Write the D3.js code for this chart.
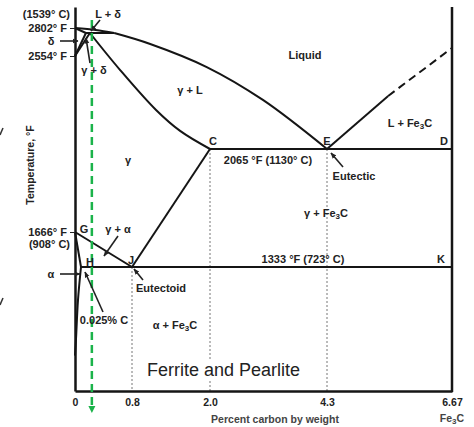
<!DOCTYPE html>
<html>
<head>
<meta charset="utf-8">
<script src="https://cdn.jsdelivr.net/npm/d3@7"></script>
<style>
  body { margin: 0; background: #fff; }
  text { font-family: "Liberation Sans", Arial, sans-serif; fill: #222; }
</style>
</head>
<body>
<div id="my_chart"></div>
<script>
// data: [percent carbon, temperature °F]
var carbonTicks = [0, 0.8, 2.0, 4.3, 6.67];
var tempTicks = [2802, 2554, 1666];
var liquidusDelta = [[0, 2802], [0.25, 2770], [0.53, 2720]];
var liquidusGamma = [[0.53, 2720], [1.08, 2641], [1.95, 2496], [3.04, 2323], [4.3, 2065]];
var solidusDelta = [[0, 2802], [0.1, 2720]];
var peritectic = [[0.1, 2720], [0.53, 2720]];
var deltaBound = [[0, 2554], [0.1, 2720]];
var gammaBound = [[0, 2554], [0.16, 2720]];
var solidusGamma = [[0.16, 2720], [0.62, 2480], [1.17, 2270], [1.54, 2160], [2.0, 2065]];
var cementiteLiq = [[4.3, 2065], [5.46, 2344]];
var cementiteLiqDash = [[5.46, 2344], [6.67, 2612]];
var eutecticLine = [[2.0, 2065], [6.67, 2065]];
var eutectoidLine = [[0.025, 1333], [6.67, 1333]];
var a3Line = [[0, 1666], [0.8, 1333]];
var gpLine = [[0, 1666], [0.025, 1333]];
var alphaSolvus = [[0.025, 1333], [0.0125, 980], [0.004, 550], [0, 380]];
var acmLine = [[0.8, 1333], [2.0, 2065]];
var dottedCarbon = [0.8, 2.0, 4.3];
var dottedTop = [1333, 2065, 2065];
var steelCarbon = 0.19;

var width = 474, height = 427;

var svg = d3.select("#my_chart")
  .append("svg")
    .attr("width", width)
    .attr("height", height);

// the diagram is schematic: low carbon and some temperature bands are stretched
var x = d3.scaleLinear()
  .domain([0, 0.025, 0.8, 2.0, 4.3, 6.67])
  .range([75, 81, 132, 210, 327, 452]);
var y = d3.scaleLinear()
  .domain([0, 1333, 1666, 2065, 2554, 2720, 2802, 3000])
  .range([391, 267, 232, 149, 56, 33, 28, 7]);

var defs = svg.append("defs");
defs.append("marker")
    .attr("id", "arr")
    .attr("viewBox", "0 0 10 10")
    .attr("refX", 9).attr("refY", 5)
    .attr("markerWidth", 6).attr("markerHeight", 6)
    .attr("markerUnits", "userSpaceOnUse")
    .attr("orient", "auto")
  .append("path")
    .attr("d", "M0,1L10,5L0,9z")
    .attr("fill", "#222");

var line = d3.line().x(function(d){ return x(d[0]); }).y(function(d){ return y(d[1]); });
var curve = d3.line().curve(d3.curveCatmullRom)
  .x(function(d){ return x(d[0]); }).y(function(d){ return y(d[1]); });

// dotted verticals
svg.selectAll("dotv")
  .data(dottedCarbon)
  .enter()
  .append("line")
    .attr("x1", function(d){ return x(d); })
    .attr("x2", function(d){ return x(d); })
    .attr("y1", function(d, i){ return y(dottedTop[i]); })
    .attr("y2", y(0))
    .attr("stroke", "#777")
    .attr("stroke-width", 1)
    .attr("stroke-dasharray", "2,2");

// phase boundaries
var straight = [solidusDelta, peritectic, deltaBound, gammaBound, cementiteLiq,
                eutecticLine, eutectoidLine, a3Line, gpLine, acmLine];
straight.forEach(function(s){
  svg.append("path").attr("d", line(s))
    .attr("fill", "none").attr("stroke", "#151515").attr("stroke-width", 2);
});
[liquidusDelta, liquidusGamma, solidusGamma, alphaSolvus].forEach(function(s){
  svg.append("path").attr("d", curve(s))
    .attr("fill", "none").attr("stroke", "#151515").attr("stroke-width", 2);
});
svg.append("path").attr("d", line(cementiteLiqDash))
  .attr("fill", "none").attr("stroke", "#151515").attr("stroke-width", 2)
  .attr("stroke-dasharray", "8,5");

// Ferrite and Pearlite, on a white box over the dotted line
var fp = svg.append("text")
  .attr("x", 147).attr("y", 376)
  .style("font-size", "18px")
  .text("Ferrite and Pearlite");
var bb = fp.node().getBBox();
svg.insert("rect", "text")
  .attr("x", bb.x - 2).attr("y", bb.y)
  .attr("width", bb.width + 4).attr("height", bb.height)
  .attr("fill", "#fff");

// axes
var yAxis = svg.append("g")
  .attr("transform", "translate(" + x(0) + ",0)")
  .call(d3.axisLeft(y).tickValues(tempTicks).tickSize(5).tickSizeOuter(0)
    .tickFormat(function(d){ return d + "° F"; }));
yAxis.select(".domain").attr("stroke", "#151515").attr("stroke-width", 2.5);
yAxis.selectAll(".tick line").attr("stroke", "#222");
yAxis.selectAll(".tick text")
  .style("font-family", "Liberation Sans, Arial, sans-serif")
  .style("font-size", "11px").style("font-weight", "bold").attr("fill", "#222");

var xAxis = svg.append("g")
  .attr("transform", "translate(0," + y(0) + ")")
  .call(d3.axisBottom(x).tickValues(carbonTicks).tickSize(0).tickSizeOuter(0).tickPadding(8)
    .tickFormat(function(d){ return d === 0 ? "0" : (d === 6.67 ? "6.67" : d.toFixed(1)); }));
xAxis.select(".domain").attr("stroke", "#151515").attr("stroke-width", 2.5);
xAxis.selectAll(".tick text")
  .style("font-family", "Liberation Sans, Arial, sans-serif")
  .style("font-size", "10.5px").style("font-weight", "bold").attr("fill", "#444");

svg.append("line")
  .attr("x1", x(6.67)).attr("x2", x(6.67))
  .attr("y1", y(3000)).attr("y2", y(0) + 1)
  .attr("stroke", "#151515").attr("stroke-width", 2.5);

// green marker line for the steel
var gx = x(steelCarbon);
svg.append("line")
  .attr("x1", gx).attr("x2", gx)
  .attr("y1", 20).attr("y2", 405)
  .attr("stroke", "#1bb34a").attr("stroke-width", 2.5)
  .attr("stroke-dasharray", "8,5");
svg.append("path")
  .attr("d", "M" + (gx - 3.5) + ",406L" + (gx + 3.5) + ",406L" + gx + ",413z")
  .attr("fill", "#1bb34a");

// text labels
function label(t, px, py, opts) {
  opts = opts || {};
  var el = svg.append("text")
    .attr("x", px).attr("y", py)
    .attr("text-anchor", opts.anchor || "middle")
    .attr("dominant-baseline", "central")
    .style("font-size", (opts.size || 11) + "px")
    .style("font-weight", opts.weight || "bold");
  if (opts.fill) el.style("fill", opts.fill);
  return el.text(t);
}
function fe3c(prefix, px, py, opts) {
  var el = label(prefix + "Fe", px, py, opts);
  el.append("tspan").attr("dy", 3).style("font-size", "8px").text("3");
  el.append("tspan").attr("dy", -3).text("C");
  return el;
}

label("(1539° C)", 70, 14, {anchor: "end"});
label("(908° C)", 70, 244, {anchor: "end"});
label("Liquid", 305, 55);
label("γ + L", 190, 90);
label("γ", 128, 160);
fe3c("L + ", 410, 123);
label("2065 °F (1130° C)", 268, 160);
label("Eutectic", 354, 176);
fe3c("γ + ", 326, 213);
label("1333 °F (723° C)", 303, 259);
fe3c("α + ", 175, 325);
label("C", 213, 141);
label("E", 327, 141);
label("D", 444, 141);
label("K", 441, 259);
label("G", 84, 229);
label("H", 90, 262);
label("J", 131, 260);
label("L + δ", 108, 14);
label("δ", 51, 41);
label("γ + δ", 94, 70);
label("γ + α", 118, 229);
label("α", 51, 274);
label("Eutectoid", 161, 288);
label("0.025% C", 104, 320);

svg.append("text")
  .attr("transform", "translate(30,165) rotate(-90)")
  .attr("text-anchor", "middle")
  .attr("dominant-baseline", "central")
  .style("font-size", "10.5px").style("font-weight", "bold")
  .text("Temperature, °F");
label("Percent carbon by weight", 275, 419, {size: 10.5, fill: "#444"});
fe3c("", 452, 418, {size: 10.5, fill: "#444"});

// pointer arrows
var arrows = [
  [100, 20, 91, 31],
  [60, 41, 78, 41],
  [90, 63, 86, 38],
  [118, 236, 104, 256],
  [60, 274, 80, 274],
  [103, 312, 85, 272],
  [143, 280, 134, 269],
  [343, 167, 331, 153]
];
svg.selectAll("ptr")
  .data(arrows)
  .enter()
  .append("line")
    .attr("x1", function(d){ return d[0]; })
    .attr("y1", function(d){ return d[1]; })
    .attr("x2", function(d){ return d[2]; })
    .attr("y2", function(d){ return d[3]; })
    .attr("stroke", "#222")
    .attr("stroke-width", 1.6)
    .attr("marker-end", "url(#arr)");

// clipped glyph fragments at the left edge of the picture
[[0, 135, 3, 128], [0, 305, 3, 298]].forEach(function(d){
  svg.append("line")
    .attr("x1", d[0]).attr("y1", d[1]).attr("x2", d[2]).attr("y2", d[3])
    .attr("stroke", "#333").attr("stroke-width", 1.5);
});
</script>
</body>
</html>
